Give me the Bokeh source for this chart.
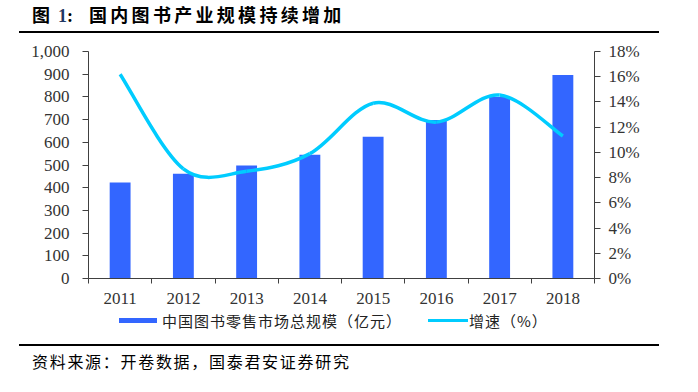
from bokeh.plotting import figure
from bokeh.models import (Range1d, LinearAxis, FixedTicker, NumeralTickFormatter,
                          PrintfTickFormatter, Div)
from bokeh.layouts import column
from bokeh.embed import file_html
from bokeh.resources import INLINE

# ---------------- data ----------------
years = ["2011", "2012", "2013", "2014", "2015", "2016", "2017", "2018"]
market_size = [423, 461, 498, 545, 625, 698, 800, 896]          # 亿元
growth = [16.2, 8.7, 8.5, 9.9, 13.9, 12.4, 14.55, 11.3]         # %
left_ticks = [0, 100, 200, 300, 400, 500, 600, 700, 800, 900, 1000]
right_ticks = [0, 2, 4, 6, 8, 10, 12, 14, 16, 18]

title_prefix = "图"
title_num = "1"
title_main = "国内图书产业规模持续增加"
source_text = "资料来源：开卷数据，国泰君安证券研究"
bar_label = "中国图书零售市场总规模（亿元）"
line_label = "增速（%）"

BAR_COLOR = "#3366FF"
LINE_COLOR = "#00CCFF"

# ---------------- layout ----------------
W = 698
BL, BR, BT, BB = 88, 104, 18, 34
FH = 227
H = BT + FH + BB
n = len(years)

p = figure(width=W, height=H, output_backend="svg", toolbar_location=None,
           x_range=Range1d(0, n), y_range=Range1d(0, 1000),
           min_border_left=BL, min_border_right=BR,
           min_border_top=BT, min_border_bottom=BB)
p.outline_line_color = None
p.xgrid.visible = False
p.ygrid.visible = False

AX = "#404040"
TICK_FONT = "Liberation Serif"
TICK_SIZE = "17px"

xc = [i + 0.5 for i in range(n)]

# x axis: labels at category centres, ticks at category boundaries
xa = p.xaxis[0]
xa.ticker = FixedTicker(ticks=xc, minor_ticks=list(range(n + 1)))
xa.major_label_overrides = {c: y for c, y in zip(xc, years)}
xa.major_tick_out = 0
xa.major_tick_in = 0
xa.minor_tick_out = 5
xa.minor_tick_in = 0
xa.axis_line_color = AX
xa.minor_tick_line_color = AX
xa.major_label_standoff = 9
xa.major_label_text_font = TICK_FONT
xa.major_label_text_font_size = TICK_SIZE
xa.major_label_text_color = "#333333"

# left axis
ya = p.yaxis[0]
ya.ticker = FixedTicker(ticks=left_ticks)
ya.formatter = NumeralTickFormatter(format="0,0")
ya.major_tick_out = 6
ya.major_tick_in = 0
ya.minor_tick_line_color = None
ya.axis_line_color = AX
ya.major_tick_line_color = AX
ya.major_label_standoff = 13
ya.major_label_text_font = TICK_FONT
ya.major_label_text_font_size = TICK_SIZE
ya.major_label_text_color = "#333333"

# right axis
p.extra_y_ranges = {"pct": Range1d(0, 18)}
ra = LinearAxis(y_range_name="pct", ticker=FixedTicker(ticks=right_ticks),
                formatter=PrintfTickFormatter(format="%d%%"))
ra.major_tick_out = 6
ra.major_tick_in = 0
ra.minor_tick_line_color = None
ra.axis_line_color = AX
ra.major_tick_line_color = AX
ra.major_label_standoff = 8
ra.major_label_text_font = TICK_FONT
ra.major_label_text_font_size = TICK_SIZE
ra.major_label_text_color = "#333333"
p.add_layout(ra, "right")

# bars
bars = p.vbar(x=xc, top=market_size, width=0.33, fill_color=BAR_COLOR, line_color=None)

# smooth growth curve (Catmull-Rom -> cubic Bezier through the data points)
x0, y0, x1, y1, cx0, cy0, cx1, cy1 = [], [], [], [], [], [], [], []
for i in range(n - 1):
    im = max(i - 1, 0)
    ip2 = min(i + 2, n - 1)
    x0.append(xc[i]); y0.append(growth[i])
    x1.append(xc[i + 1]); y1.append(growth[i + 1])
    cx0.append(xc[i] + (xc[i + 1] - xc[im]) / 6.0)
    cy0.append(growth[i] + (growth[i + 1] - growth[im]) / 6.0)
    cx1.append(xc[i + 1] - (xc[ip2] - xc[i]) / 6.0)
    cy1.append(growth[i + 1] - (growth[ip2] - growth[i]) / 6.0)
curve = p.bezier(x0=x0, y0=y0, x1=x1, y1=y1, cx0=cx0, cy0=cy0, cx1=cx1, cy1=cy1,
                 line_color=LINE_COLOR, line_width=3.5, y_range_name="pct")

# ---------------- title, legend, source ----------------
title_html = (
    '<div style="margin-left:19px;width:640px;height:31px;border-bottom:2px solid #000;'
    'font-family:\'Noto Sans CJK SC\';font-weight:bold;font-size:18px;line-height:20px;'
    'color:#000;white-space:nowrap;box-sizing:content-box;">'
    '<div style="padding-top:4px;">'
    '<span style="padding-left:13px;">' + title_prefix + '</span>'
    '<span style="font-family:\'Liberation Serif\';color:#1F3864;padding-left:8px;">'
    + title_num + '</span>'
    '<span style="font-family:\'Liberation Serif\';">:</span>'
    '<span style="padding-left:16px;letter-spacing:3.3px;">' + title_main + '</span>'
    '</div></div>'
)
title_div = Div(text=title_html, width=W, height=33, margin=(0, 0, 0, 0))

legend_html = (
    '<div style="position:relative;width:' + str(W) + 'px;height:32px;'
    'font-family:\'Noto Sans CJK SC\';font-size:15px;line-height:17px;color:#222;'
    'white-space:nowrap;">'
    '<span style="position:absolute;left:119px;top:6px;width:38px;height:5px;'
    'background:' + BAR_COLOR + ';"></span>'
    '<span style="position:absolute;left:162px;top:0px;letter-spacing:1px;">'
    + bar_label + '</span>'
    '<span style="position:absolute;left:428px;top:7px;width:40px;height:3px;'
    'background:' + LINE_COLOR + ';"></span>'
    '<span style="position:absolute;left:469px;top:0px;letter-spacing:1px;">'
    + line_label + '</span>'
    '</div>'
)
legend_div = Div(text=legend_html, width=W, height=32, margin=(0, 0, 0, 0))

source_html = (
    '<div style="margin-left:19px;width:640px;border-top:2px solid #000;'
    'font-family:\'Noto Sans CJK SC\';font-size:16px;line-height:20px;color:#000;'
    'white-space:nowrap;">'
    '<div style="padding-left:13px;padding-top:5px;letter-spacing:1.7px;">'
    + source_text + '</div></div>'
)
source_div = Div(text=source_html, width=W, height=36, margin=(0, 0, 0, 0))

layout = column(title_div, p, legend_div, source_div, spacing=0)

open("out.html", "w").write(file_html(layout, INLINE))
